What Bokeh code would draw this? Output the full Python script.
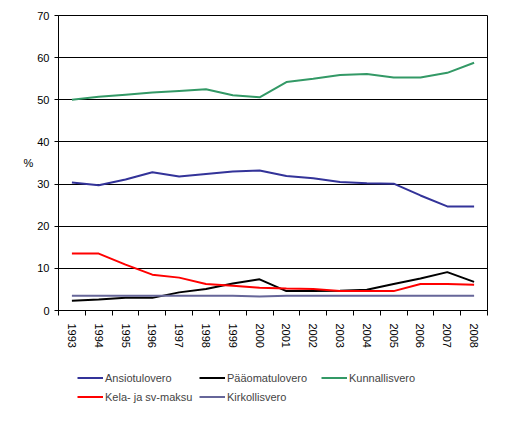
from bokeh.plotting import figure
from bokeh.models import FixedTicker, Legend, LegendItem, Range1d
from bokeh.layouts import column
from bokeh.embed import file_html
from bokeh.resources import INLINE
import math

years = list(range(1993, 2009))

ansiotulovero = [30.4, 29.7, 31.1, 32.8, 31.8, 32.4, 33.0, 33.2, 31.9, 31.4, 30.5, 30.2, 30.1, 27.3, 24.7, 24.7]
paaomatulovero = [2.3, 2.6, 3.0, 3.0, 4.3, 5.1, 6.4, 7.4, 4.6, 4.6, 4.7, 4.9, 6.3, 7.6, 9.1, 6.8]
kunnallisvero = [50.0, 50.7, 51.2, 51.7, 52.1, 52.5, 51.1, 50.6, 54.2, 55.0, 55.9, 56.1, 55.3, 55.3, 56.4, 58.8]
kela_sv = [13.5, 13.5, 10.9, 8.5, 7.8, 6.3, 5.9, 5.4, 5.2, 5.1, 4.6, 4.6, 4.6, 6.3, 6.3, 6.1]
kirkollisvero = [3.5, 3.5, 3.5, 3.5, 3.5, 3.5, 3.5, 3.3, 3.5, 3.5, 3.5, 3.5, 3.5, 3.5, 3.5, 3.5]

series_names = ["Ansiotulovero", "Pääomatulovero", "Kunnallisvero", "Kela- ja sv-maksu", "Kirkollisvero"]
series_values = [ansiotulovero, paaomatulovero, kunnallisvero, kela_sv, kirkollisvero]
series_colors = ["#333399", "#000000", "#339966", "#FF0000", "#666699"]

FONT = "Liberation Sans"

p = figure(
    width=501, height=350,
    min_border_left=58, min_border_right=14, min_border_top=15, min_border_bottom=38,
    x_range=Range1d(years[0] - 0.5, years[-1] + 0.5),
    y_range=Range1d(0, 70),
    output_backend="svg", toolbar_location=None,
)
p.outline_line_color = "black"
p.outline_line_width = 1
p.outline_line_alpha = 1

# x axis: labels at category centres, tick marks between categories
p.xaxis.ticker = FixedTicker(ticks=years, minor_ticks=[y - 0.5 for y in years] + [years[-1] + 0.5])
p.xaxis.major_tick_line_color = None
p.xaxis.minor_tick_line_color = "black"
p.xaxis.minor_tick_out = 5
p.xaxis.minor_tick_in = 0
p.xaxis.major_label_orientation = -math.pi / 2
p.xaxis.major_label_standoff = 7
p.xgrid.grid_line_color = None

p.yaxis.ticker = FixedTicker(ticks=list(range(0, 71, 10)), minor_ticks=[])
p.yaxis.major_tick_out = 4
p.yaxis.major_tick_in = 0
p.yaxis.major_label_standoff = 5
p.yaxis.axis_label = "%"
p.yaxis.axis_label_standoff = 1
p.yaxis.axis_label_text_font = FONT
p.yaxis.axis_label_text_font_size = "11px"
p.yaxis.axis_label_text_font_style = "normal"
p.yaxis.axis_label_text_color = "black"
if "axis_label_orientation" in p.yaxis[0].properties():
    p.yaxis.axis_label_orientation = "horizontal"
p.ygrid.grid_line_color = "black"
p.ygrid.grid_line_alpha = 1

for ax in [p.xaxis, p.yaxis]:
    ax.axis_line_color = "black"
    ax.major_label_text_font = FONT
    ax.major_label_text_font_size = "11px"
    ax.major_label_text_color = "black"

for name, vals, clr in zip(series_names, series_values, series_colors):
    p.line(years, vals, color=clr, line_width=2)

# legend sits in its own strip below the chart (its lines fall outside the strip's ranges)
leg = figure(width=501, height=73, min_border=0, x_range=Range1d(0, 1), y_range=Range1d(0, 1),
             x_axis_type=None, y_axis_type=None, output_backend="svg", toolbar_location=None)
leg.grid.grid_line_color = None
leg.outline_line_color = None

items = []
for name, vals, clr in zip(series_names, series_values, series_colors):
    r = leg.line(years, vals, color=clr, line_width=2)
    items.append(LegendItem(label=name, renderers=[r]))

legend = Legend(items=items, location=(19, 19), orientation="horizontal", nrows=2,
                glyph_width=26, glyph_height=15, label_height=15, label_width=90,
                label_standoff=2, spacing=4, padding=0, margin=0,
                label_text_font=FONT, label_text_font_size="11px",
                border_line_color=None, background_fill_alpha=0)
leg.add_layout(legend, "center")

open("out.html", "w").write(file_html(column(p, leg), INLINE))
